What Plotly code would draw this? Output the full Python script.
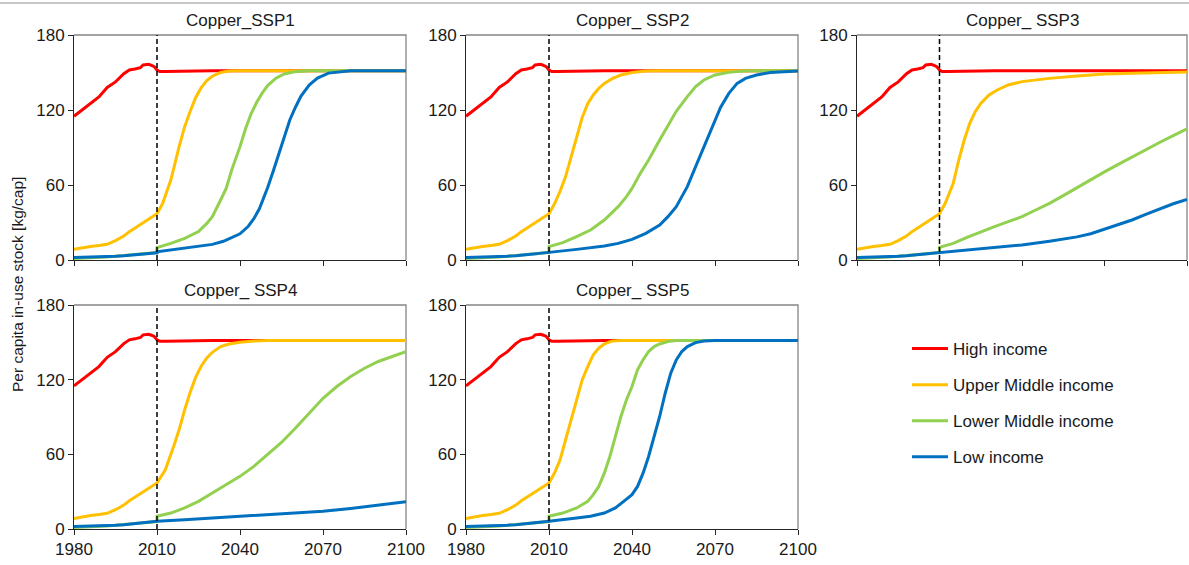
import plotly.graph_objects as go

W, H = 1189, 565

# ---- historical data (shared by all scenarios) ----
hist_years = [1980, 1983, 1986, 1989, 1992, 1995, 1998, 2000, 2002, 2004, 2005, 2007, 2008, 2009, 2010]
hist_high = [115, 120, 125, 130.5, 138, 142.5, 149, 152, 152.8, 153.9, 156, 156.5, 155.7, 154.7, 152]
hist_upper = [8.5, 9.8, 10.8, 11.6, 12.6, 15.5, 19.2, 22.7, 25.5, 28.5, 30.0, 32.5, 34.0, 35.3, 37.0]
hist_lower = [1.3, 1.5, 1.8, 2.1, 2.5, 3.0, 3.6, 4.0, 4.4, 4.8, 5.0, 5.4, 5.6, 5.8, 6.0]
hist_low = [2.1, 2.2, 2.4, 2.6, 2.8, 3.1, 3.5, 3.9, 4.3, 4.6, 4.8, 5.2, 5.4, 5.6, 5.8]

# ---- high income projection (same in every scenario) ----
high_years = [2011, 2013, 2016, 2020, 2030, 2040, 2100]
high_vals = [150.8, 150.9, 151.1, 151.3, 151.5, 151.5, 151.5]

# ---- SSP1 ----
ssp1_upper_years = [2012, 2015, 2018, 2020, 2022, 2024, 2026, 2028, 2030, 2033, 2036, 2040, 2100]
ssp1_upper = [45, 64, 90.7, 106.7, 119, 130, 138, 143.5, 147, 150, 151.2, 151.5, 151.5]
ssp1_lower_years = [2010, 2015, 2020, 2025, 2028, 2030, 2033, 2035, 2037, 2040, 2042, 2044, 2046, 2048,
                    2050, 2053, 2056, 2060, 2065, 2100]
ssp1_lower = [10, 13.3, 17.3, 22.7, 29.3, 34.7, 48, 57.3, 72, 90.7, 105, 117, 126, 133.5, 139.5, 145.5,
              148.8, 150.7, 151.5, 151.5]
ssp1_low_years = [2010, 2015, 2020, 2025, 2030, 2034, 2037, 2040, 2043, 2045, 2047, 2049, 2050, 2052, 2054,
                  2056, 2058, 2060, 2062, 2065, 2068, 2072, 2080, 2100]
ssp1_low = [6.5, 8, 9, 10.5, 12.5, 15, 18, 21, 27, 33, 41, 52, 58, 71, 85, 99, 112, 122, 131, 140, 145.5,
            149.5, 151.3, 151.5]

# ---- SSP2 ----
ssp2_upper_years = [2012, 2014, 2016, 2018, 2020, 2022, 2024, 2026, 2028, 2030, 2033, 2036, 2040, 2045, 2050, 2100]
ssp2_upper = [45, 55, 66.7, 82.7, 98.7, 114, 125, 132, 137.3, 141.3, 145.3, 148, 150, 151.2, 151.5, 151.5]
ssp2_lower_years = [2010, 2015, 2020, 2025, 2030, 2035, 2038, 2040, 2043, 2046, 2050, 2053, 2056, 2060, 2063,
                    2066, 2070, 2075, 2080, 2090, 2100]
ssp2_lower = [10.7, 13.9, 18.7, 24, 32, 42.7, 50.7, 57.3, 69.3, 80, 96, 108, 119, 130.7, 138.7, 144, 148,
              150.1, 151.2, 151.5, 151.5]
ssp2_low_years = [2010, 2020, 2030, 2035, 2040, 2045, 2050, 2053, 2056, 2058, 2060, 2063, 2066, 2068, 2070,
                  2072, 2075, 2078, 2081, 2085, 2090, 2100]
ssp2_low = [6.1, 8.5, 11.2, 13.3, 16.5, 21.3, 28, 34.7, 42.7, 50.7, 58.7, 74.7, 90.7, 101.3, 112, 122,
            133.3, 141.3, 145.3, 148, 150, 151.2]

# ---- SSP3 ----
ssp3_upper_years = [2012, 2015, 2017, 2019, 2021, 2023, 2025, 2028, 2031, 2035, 2040, 2050, 2060, 2070,
                    2080, 2090, 2100]
ssp3_upper = [45, 61.3, 80, 96, 109.3, 118.7, 125.3, 132, 136, 140, 142.7, 145.3, 147.2, 148.8, 149.3,
              150.1, 150.4]
ssp3_lower_years = [2010, 2015, 2020, 2025, 2030, 2035, 2040, 2045, 2050, 2055, 2060, 2065, 2070, 2075,
                    2080, 2085, 2090, 2095, 2100]
ssp3_lower = [10.1, 13.3, 18.1, 22.7, 26.7, 30.7, 34.7, 40, 45.3, 51.5, 58, 64, 70.5, 76.5, 82.5, 88.5,
              94, 99.5, 105]
ssp3_low_years = [2010, 2020, 2030, 2040, 2050, 2060, 2065, 2070, 2075, 2080, 2085, 2090, 2095, 2100]
ssp3_low = [6.1, 8, 10, 12, 15, 18.5, 21, 24.5, 28, 32, 36.5, 41, 45, 48.5]

# ---- SSP4 ----
ssp4_upper_years = [2012, 2013, 2016, 2018, 2020, 2022, 2024, 2026, 2028, 2030, 2033, 2036, 2040, 2045,
                    2050, 2100]
ssp4_upper = [44, 47.6, 66.3, 79.7, 95.8, 110, 122, 131, 137.5, 142, 146.6, 148.7, 150, 151.1, 151.5, 151.5]
ssp4_lower_years = [2010, 2015, 2020, 2025, 2030, 2035, 2040, 2045, 2050, 2055, 2060, 2065, 2070, 2075,
                    2080, 2085, 2090, 2095, 2100]
ssp4_lower = [10.2, 12.8, 16.9, 22.2, 28.9, 35.6, 42.3, 50.3, 59.7, 69.5, 81, 93, 105, 114.5, 122.5,
              129.2, 134.6, 138.6, 142.6]
ssp4_low_years = [2010, 2020, 2030, 2040, 2050, 2060, 2070, 2080, 2090, 2100]
ssp4_low = [6.2, 7.5, 8.8, 10.2, 11.5, 12.8, 14.2, 16.5, 19, 22]

# ---- SSP5 ----
ssp5_upper_years = [2012, 2014, 2016, 2018, 2020, 2022, 2024, 2026, 2028, 2030, 2033, 2036, 2100]
ssp5_upper = [45, 55.6, 71.7, 87.7, 103.8, 119.8, 130.5, 139.9, 145.3, 148.7, 151.1, 151.5, 151.5]
ssp5_lower_years = [2010, 2015, 2020, 2024, 2026, 2028, 2030, 2032, 2034, 2036, 2038, 2040, 2042, 2044,
                    2046, 2048, 2050, 2053, 2056, 2100]
ssp5_lower = [10.2, 12.8, 16.9, 22.2, 27.6, 34.2, 44.9, 58.3, 74.4, 90.4, 103.8, 114.5, 127.9, 135.9,
              142.6, 146.6, 148.7, 150.6, 151.4, 151.5]
ssp5_low_years = [2010, 2020, 2025, 2030, 2034, 2037, 2040, 2042, 2044, 2046, 2048, 2050, 2052, 2054, 2056,
                  2058, 2060, 2063, 2066, 2070, 2100]
ssp5_low = [6.2, 8.8, 10.2, 12.8, 16.9, 22.2, 27.6, 34.2, 44.9, 58.3, 74.4, 90.4, 109.1, 125.2, 135.9,
            142.6, 146.6, 149.8, 151.1, 151.5, 151.5]

titles = ["Copper_SSP1", "Copper_ SSP2", "Copper_ SSP3", "Copper_ SSP4", "Copper_ SSP5"]
series_names = ["High income", "Upper Middle income", "Lower Middle income", "Low income"]
colors = ["#FF0000", "#FFC000", "#92D050", "#0070C0"]

x_ticks = [1980, 2010, 2040, 2070, 2100]
y_ticks = [0, 60, 120, 180]

scenarios = [
    (ssp1_upper_years, ssp1_upper, ssp1_lower_years, ssp1_lower, ssp1_low_years, ssp1_low),
    (ssp2_upper_years, ssp2_upper, ssp2_lower_years, ssp2_lower, ssp2_low_years, ssp2_low),
    (ssp3_upper_years, ssp3_upper, ssp3_lower_years, ssp3_lower, ssp3_low_years, ssp3_low),
    (ssp4_upper_years, ssp4_upper, ssp4_lower_years, ssp4_lower, ssp4_low_years, ssp4_low),
    (ssp5_upper_years, ssp5_upper, ssp5_lower_years, ssp5_lower, ssp5_low_years, ssp5_low),
]

# panel boxes in pixels: (left, right, top, bottom)
panels_px = [
    (74, 406, 35, 260), (466, 798, 35, 260), (857, 1187, 35, 260),
    (74, 406, 305, 529), (466, 798, 305, 529),
]

FONT = "Liberation Sans, Arial, sans-serif"
TXT = "#1a1a1a"
AXIS_DARK = "#262626"
FRAME = "#858585"

fig = go.Figure()
layout = dict(
    width=W, height=H,
    margin=dict(l=0, r=0, t=0, b=0, pad=0, autoexpand=False),
    paper_bgcolor="white", plot_bgcolor="white",
    font=dict(family=FONT, size=17, color=TXT),
    showlegend=True,
)
annotations = []
shapes = []

for i, (sc, box, title) in enumerate(zip(scenarios, panels_px, titles)):
    uy, uv, ly, lv, wy, wv = sc
    n = "" if i == 0 else str(i + 1)
    xa, ya = "x" + n, "y" + n
    series = [
        (hist_years + high_years, hist_high + high_vals),
        (hist_years + uy, hist_upper + uv),
        (hist_years + ly, hist_lower + lv),
        (hist_years + wy, hist_low + wv),
    ]
    for k, (xs, ys) in enumerate(series):
        fig.add_trace(go.Scatter(
            x=xs, y=ys, mode="lines", name=series_names[k],
            line=dict(color=colors[k], width=3),
            xaxis=xa, yaxis=ya, showlegend=(i == 0), legendgroup=series_names[k],
        ))
    left, right, top, bottom = box
    bottom_row = i >= 3
    layout["xaxis" + n] = dict(
        domain=[left / W, right / W], range=[1980, 2100], anchor=ya,
        tickvals=x_ticks, showticklabels=bottom_row, ticks="outside", ticklen=5,
        tickcolor=AXIS_DARK, showline=True, linecolor=AXIS_DARK, linewidth=1,
        showgrid=False, zeroline=False, automargin=False, tickfont=dict(size=17, color=TXT),
    )
    layout["yaxis" + n] = dict(
        domain=[1 - bottom / H, 1 - top / H], range=[0, 180], anchor=xa,
        tickvals=y_ticks, ticks="outside", ticklen=5, tickcolor=AXIS_DARK,
        showline=True, linecolor=AXIS_DARK, linewidth=1,
        showgrid=False, zeroline=False, automargin=False, tickfont=dict(size=17, color=TXT),
    )
    # grey frame on the top and right sides
    shapes.append(dict(type="path", xref=xa + " domain", yref=ya + " domain",
                       path="M 0,1 L 1,1 L 1,0", line=dict(color=FRAME, width=1.3), layer="below"))
    # dashed marker at the base year
    shapes.append(dict(type="line", xref=xa, yref=ya, x0=2010, x1=2010, y0=0, y1=180,
                       line=dict(color="#000000", width=1.5, dash="5px,3px")))
    annotations.append(dict(
        text=title, xref="paper", yref="paper",
        x=(left + right) / 2 / W, y=1 - (top - 15) / H,
        xanchor="center", yanchor="middle", showarrow=False,
        font=dict(size=17, color=TXT),
    ))

annotations.append(dict(
    text="Per capita in-use stock [kg/cap]", xref="paper", yref="paper",
    x=17 / W, y=1 - 285 / H, xanchor="center", yanchor="middle",
    textangle=-90, showarrow=False, font=dict(size=15.5, color=TXT),
))

# thin grey rule across the top
shapes.append(dict(type="line", xref="paper", yref="paper", x0=0, x1=1,
                   y0=1 - 3 / H, y1=1 - 3 / H, line=dict(color="#b4b4b4", width=1.5)))

layout["annotations"] = annotations
layout["shapes"] = shapes
layout["legend"] = dict(
    x=907 / W, y=1 - 331 / H, xanchor="left", yanchor="top",
    bgcolor="rgba(0,0,0,0)", borderwidth=0, tracegroupgap=11, itemwidth=36,
    font=dict(size=17, color=TXT),
)
fig.update_layout(**layout)
fig.write_html("out.html")
